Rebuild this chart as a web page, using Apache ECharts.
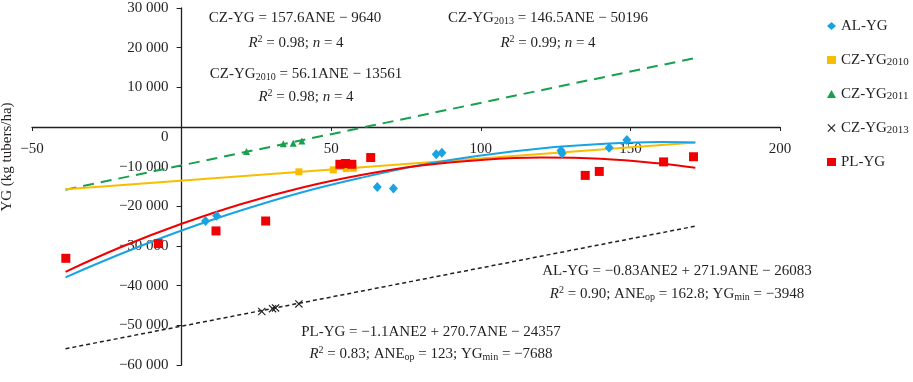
<!DOCTYPE html>
<html>
<head>
<meta charset="utf-8">
<script src="https://cdn.jsdelivr.net/npm/echarts@6/dist/echarts.min.js"></script>
<style>
html,body{margin:0;padding:0;background:#fff;}
#chart{width:913px;height:382px;}
</style>
</head>
<body>
<div id="chart"></div>
<script>
// ---- tick values ----
const xTicks = [-50, 0, 50, 100, 150, 200];
const yTicks = [-60000, -50000, -40000, -30000, -20000, -10000, 0, 10000, 20000, 30000];

// ---- observed points ----
const alX = [8.0, 11.7, 65.4, 70.8, 85.1, 87.0, 126.8, 127.2, 142.9, 148.8];
const alY = [-23700, -22400, -15100, -15500, -6900, -6500, -5900, -6700, -5200, -3300];

const cz2010X = [39.2, 50.7, 55.0, 57.4];
const cz2010Y = [-11300, -10800, -10500, -10400];

const cz2011X = [21.7, 34.0, 37.3, 40.2];
const cz2011Y = [-6200, -4200, -4100, -3500];

const cz2013X = [26.8, 30.4, 31.4, 39.2];
const cz2013Y = [-46500, -45800, -45600, -44600];

const plX = [-38.7, -7.8, 11.5, 28.1, 52.9, 54.8, 56.9, 63.2, 134.9, 139.6, 161.1, 171.1];
const plY = [-33100, -29400, -26200, -23700, -9400, -9200, -9400, -7700, -12200, -11200, -8800, -7500];

// ---- trend lines ----
const curveX = [-38.8, -20, 0, 20, 40, 60, 80, 100, 120, 140, 160, 171.7];
const alFitY = [-37900, -31900, -26100, -21000, -16500, -12800, -9600, -7200, -5400, -4300, -3800, -3900];
const plFitY = [-36500, -30200, -24400, -19400, -15300, -12100, -9700, -8300, -7700, -8000, -9200, -10300];

const lineX = [-38.8, 171.7];
const czFitY = [-15800, 17400];
const cz2010FitY = [-15700, -3900];
const cz2013FitY = [-55900, -25000];

// ---- names ----
const seriesNames = ['AL-YG', 'CZ-YG2010', 'CZ-YG2011', 'CZ-YG2013', 'PL-YG'];

const FONT = '"Liberation Serif", "DejaVu Serif", serif';
const TXT = '#231f20';
const C_BLUE = '#1aa3e3';
const C_YEL = '#f7bd00';
const C_GRN = '#18a04e';
const C_BLK = '#231f20';
const C_RED = '#f00000';
const X_PATH = 'path://M1,0L5,4L9,0L10,1L6,5L10,9L9,10L5,6L1,10L0,9L4,5L0,1Z';

function zip(xs, ys) { return xs.map((x, i) => [x, ys[i]]); }
function fmtNum(v) {
  const s = Math.abs(v).toString().replace(/\B(?=(\d{3})+(?!\d))/g, ' ');
  return (v < 0 ? '\u2212' : '') + s;
}

// plot area geometry
const W = 913, H = 382;
const G_LEFT = 32, G_RIGHT = 133, G_TOP = 8, G_BOTTOM = 17;
const plotW = W - G_LEFT - G_RIGHT, plotH = H - G_TOP - G_BOTTOM;
const xMin = xTicks[0], xMax = xTicks[xTicks.length - 1];
const yMin = yTicks[0], yMax = yTicks[yTicks.length - 1];
// shift axes so they cross at zero
const xAxisOffset = -plotH * (0 - yMin) / (yMax - yMin);
const yAxisOffset = -plotW * (0 - xMin) / (xMax - xMin);

const chart = echarts.init(document.getElementById('chart'), null, {renderer: 'canvas'});

const richEq = {
  i: {fontStyle: 'italic', fontFamily: FONT, fontSize: 15, fill: TXT},
  n: {fontFamily: FONT, fontSize: 15, fill: TXT},
  sup: {fontFamily: FONT, fontSize: 10, fill: TXT, verticalAlign: 'top', padding: [0, 0, 7, 0]},
  sub: {fontFamily: FONT, fontSize: 10, fill: TXT, verticalAlign: 'bottom', padding: [6, 0, 0, 0]}
};
function eqText(x, y, text) {
  return {
    type: 'text', x: x, y: y, z: 100,
    style: {text: text, rich: richEq, align: 'center', verticalAlign: 'middle',
            fontFamily: FONT, fontSize: 15, fill: TXT}
  };
}

const option = {
  backgroundColor: '#fff',
  animation: false,
  textStyle: {fontFamily: FONT, color: TXT},
  grid: {left: G_LEFT, right: G_RIGHT, top: G_TOP, bottom: G_BOTTOM, containLabel: false, outerBoundsMode: 'none'},
  xAxis: {
    type: 'value', min: xMin, max: xMax, interval: 50, position: 'bottom', offset: xAxisOffset,
    splitLine: {show: false},
    axisLine: {onZero: false, lineStyle: {color: TXT, width: 1.3}},
    axisTick: {show: true, inside: false, length: 4, lineStyle: {color: TXT}},
    axisLabel: {
      margin: 15, fontFamily: FONT, fontSize: 15, color: TXT,
      formatter: v => (v === 0 ? '' : fmtNum(v))
    }
  },
  yAxis: {
    type: 'value', min: yMin, max: yMax, interval: 10000, position: 'left', offset: yAxisOffset,
    splitLine: {show: false},
    axisLine: {onZero: false, lineStyle: {color: TXT, width: 1.3}},
    axisTick: {show: true, inside: false, length: 5, lineStyle: {color: TXT}},
    axisLabel: {
      margin: 13, fontFamily: FONT, fontSize: 15, color: TXT,
      formatter: v => (v === 0 ? '{z|0}' : fmtNum(v)),
      rich: {z: {fontFamily: FONT, fontSize: 15, color: TXT, padding: [20, 0, 0, 0]}}
    }
  },
  legend: {
    orient: 'vertical', left: 827, top: 18, padding: 0,
    itemWidth: 9, itemHeight: 8, itemGap: 18,
    textStyle: {
      fontFamily: FONT, fontSize: 15, color: TXT, lineHeight: 16,
      rich: {s: {fontFamily: FONT, fontSize: 11, color: TXT, verticalAlign: 'bottom', padding: [3, 0, 0, 0]}}
    },
    formatter: name => name.replace(/(\d{4})$/, '{s|$1}'),
    data: [
      {name: seriesNames[0], icon: 'diamond'},
      {name: seriesNames[1], icon: 'rect'},
      {name: seriesNames[2], icon: 'triangle'},
      {name: seriesNames[3], icon: X_PATH},
      {name: seriesNames[4], icon: 'rect'}
    ]
  },
  graphic: [
    {
      type: 'text', x: 7, y: 157, rotation: Math.PI / 2, z: 100,
      style: {text: 'YG (kg tubers/ha)', fontFamily: FONT, fontSize: 15, fill: TXT,
              align: 'center', verticalAlign: 'middle'}
    },
    eqText(295, 18, '{n|CZ-YG = 157.6ANE \u2212 9640}'),
    eqText(296, 43, '{i|R}{sup|2}{n| = 0.98; }{i|n}{n| = 4}'),
    eqText(306, 74, '{n|CZ-YG}{sub|2010}{n| = 56.1ANE \u2212 13561}'),
    eqText(306, 97, '{i|R}{sup|2}{n| = 0.98; }{i|n}{n| = 4}'),
    eqText(548, 18, '{n|CZ-YG}{sub|2013}{n| = 146.5ANE \u2212 50196}'),
    eqText(548, 43, '{i|R}{sup|2}{n| = 0.99; }{i|n}{n| = 4}'),
    eqText(677, 271, '{n|AL-YG = \u22120.83ANE2 + 271.9ANE \u2212 26083}'),
    eqText(677, 294, '{i|R}{sup|2}{n| = 0.90; ANE}{sub|op}{n| = 162.8; YG}{sub|min}{n| = \u22123948}'),
    eqText(431, 332, '{n|PL-YG = \u22121.1ANE2 + 270.7ANE \u2212 24357}'),
    eqText(431, 354, '{i|R}{sup|2}{n| = 0.83; ANE}{sub|op}{n| = 123; YG}{sub|min}{n| = \u22127688}')
  ],
  series: [
    {name: 'CZ-YG fit', type: 'line', data: zip(lineX, czFitY), symbol: 'none', silent: true,
     lineStyle: {color: C_GRN, width: 2, type: [11, 7]}, z: 2},
    {name: 'CZ-YG2010 fit', type: 'line', data: zip(lineX, cz2010FitY), symbol: 'none', silent: true,
     lineStyle: {color: C_YEL, width: 2}, z: 2},
    {name: 'CZ-YG2013 fit', type: 'line', data: zip(lineX, cz2013FitY), symbol: 'none', silent: true,
     lineStyle: {color: C_BLK, width: 1.5, type: [4, 3]}, z: 2},
    {name: 'AL-YG fit', type: 'line', data: zip(curveX, alFitY), symbol: 'none', smooth: 0.4, silent: true,
     lineStyle: {color: C_BLUE, width: 2}, z: 2},
    {name: 'PL-YG fit', type: 'line', data: zip(curveX, plFitY), symbol: 'none', smooth: 0.4, silent: true,
     lineStyle: {color: C_RED, width: 2}, z: 2},
    {name: seriesNames[0], type: 'scatter', data: zip(alX, alY), symbol: 'diamond', symbolSize: [9, 10],
     itemStyle: {color: C_BLUE, opacity: 1}, z: 5},
    {name: seriesNames[1], type: 'scatter', data: zip(cz2010X, cz2010Y), symbol: 'rect', symbolSize: 7,
     itemStyle: {color: C_YEL, opacity: 1}, z: 5},
    {name: seriesNames[2], type: 'scatter', data: zip(cz2011X, cz2011Y), symbol: 'triangle', symbolSize: 7,
     itemStyle: {color: C_GRN, opacity: 1}, z: 5},
    {name: seriesNames[3], type: 'scatter', data: zip(cz2013X, cz2013Y), symbol: X_PATH, symbolSize: 8,
     itemStyle: {color: C_BLK, opacity: 1}, z: 5},
    {name: seriesNames[4], type: 'scatter', data: zip(plX, plY), symbol: 'rect', symbolSize: 9,
     itemStyle: {color: C_RED, opacity: 1}, z: 5}
  ]
};
chart.setOption(option);
</script>
</body>
</html>
